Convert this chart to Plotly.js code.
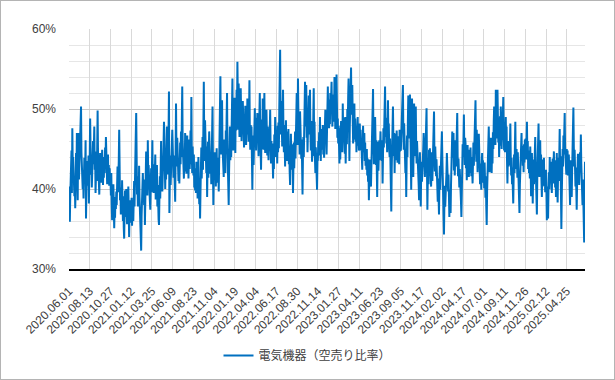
<!DOCTYPE html>
<html>
<head>
<meta charset="utf-8">
<script src="https://cdn.plot.ly/plotly-3.0.1.min.js"></script>
<style>
  html, body { margin: 0; padding: 0; background: #fff; }
  #frame { position: absolute; left: 0; top: 0; width: 615px; height: 380px; box-sizing: border-box; border: 1px solid #b4b4b4; }
  #chart { width: 613px; height: 378px; }
</style>
</head>
<body>
<div id="frame"><div id="chart"></div></div>
<script>
// 電気機器（空売り比率） daily values, %, 2020.06.01 onward (trading days)
const seriesName = "電気機器（空売り比率）";

const shortSellRatio = [
  // 2020.06.01 –
  40.3,38.5,35.9,39.0,43.5,41.0,44.8,39.5,47.6,43.2,44.0,40.5,42.8,39.1,41.5,37.6,40.2,44.5,42.0,47.0,43.3,38.6,45.8,47.0,41.2,44.0,42.5,45.3,48.0,50.3,44.6,41.8,43.7,40.0,42.2,38.8,41.5,43.9,40.7,42.6,46.1,36.3,39.8,42.0,40.4,43.5,41.3,44.2,38.2,42.5,
  // 2020.08.13 –
  44.0,48.8,45.1,41.8,43.6,40.2,44.3,42.0,46.0,43.1,45.4,47.8,42.4,44.7,39.5,41.9,43.8,41.0,45.6,49.8,44.2,42.1,43.6,39.3,41.7,44.5,42.3,40.8,43.9,41.6,44.9,42.7,40.5,43.2,41.4,44.0,42.0,45.2,43.0,46.5,41.8,43.5,40.6,42.9,44.3,41.2,43.0,40.4,42.6,40.8,
  // 2020.10.27 –
  41.5,39.2,42.0,38.0,36.1,39.5,37.4,40.6,38.2,35.1,37.8,36.4,39.0,37.5,39.7,38.0,40.4,42.8,39.6,41.2,43.5,47.4,41.0,38.6,40.2,36.8,39.4,37.2,41.1,38.3,36.0,39.1,35.2,33.8,37.0,39.8,36.5,38.7,40.0,37.3,35.6,38.2,36.9,40.3,37.6,34.0,36.8,38.6,35.8,37.4,
  // 2021.01.12 –
  36.2,38.9,35.4,37.6,38.6,36.0,39.2,41.0,37.8,43.5,40.1,46.8,49.5,42.0,39.3,41.6,37.8,40.5,38.4,42.9,39.0,36.7,38.1,35.0,32.3,36.6,38.8,40.7,42.0,39.4,41.2,38.0,40.9,35.5,38.3,41.8,44.7,40.0,42.3,39.2,46.1,41.5,43.0,39.9,41.6,38.5,37.4,40.8,42.6,39.6,
  // 2021.03.25 –
  44.0,46.1,40.8,42.7,39.5,43.1,40.2,41.5,44.3,38.7,41.9,39.6,43.0,37.8,40.5,38.4,36.2,35.5,39.0,41.6,38.8,43.2,46.0,40.4,42.8,39.7,44.1,41.3,45.7,48.4,42.5,44.8,40.0,43.6,41.2,45.0,47.8,42.1,44.6,41.8,46.3,52.2,37.0,41.7,44.2,40.5,43.9,42.0,45.5,47.4,
  // 2021.06.09 –
  43.0,45.6,41.4,44.2,40.6,42.0,38.4,44.5,50.7,45.2,42.8,46.4,43.3,44.9,41.0,43.7,40.7,42.9,45.8,43.1,47.2,44.0,48.6,52.8,46.0,43.4,45.1,41.3,44.6,42.2,47.0,43.8,45.4,41.9,44.2,46.7,42.8,45.0,41.3,43.9,46.2,42.5,44.8,47.3,43.1,51.5,44.7,42.0,45.3,43.2,
  // 2021.08.23 –
  41.7,44.3,40.2,42.6,39.8,41.1,39.5,43.4,40.9,42.2,38.8,41.6,44.0,40.3,38.1,40.7,36.3,39.6,42.5,45.2,41.3,43.8,46.5,42.4,48.0,53.4,46.2,43.5,48.6,44.1,46.8,42.0,45.3,39.0,42.8,45.9,41.4,44.6,47.2,43.0,45.8,41.9,44.4,40.6,43.3,47.0,50.3,43.7,38.0,41.8,
  // 2021.11.04 –
  42.0,44.6,41.2,43.5,40.3,42.7,45.1,41.6,43.9,40.8,42.3,39.7,43.0,45.8,48.5,54.1,47.0,44.3,46.9,51.1,45.4,42.6,44.8,41.5,46.2,43.1,45.7,42.0,47.3,44.4,49.0,52.0,45.2,42.9,40.6,38.0,42.4,45.8,47.8,43.6,46.9,44.0,48.3,50.6,53.8,47.5,44.8,49.2,46.0,51.4,
  // 2022.01.19 –
  48.2,44.5,50.6,47.3,52.4,49.0,55.9,50.1,47.4,53.2,48.8,46.5,50.9,47.7,52.6,48.3,46.0,49.4,47.1,51.0,46.3,49.8,45.2,48.1,46.6,50.4,47.9,45.5,49.2,46.8,51.3,47.0,49.5,45.9,48.7,53.6,47.2,44.9,48.0,45.6,47.8,43.4,39.9,44.2,46.7,43.0,48.2,45.1,50.1,46.3,
  // 2022.04.04 –
  47.6,44.8,48.9,46.2,49.5,45.4,47.9,44.1,46.8,49.3,52.0,47.0,45.2,42.4,46.3,48.7,45.0,51.3,47.4,44.9,48.2,52.0,46.1,44.5,47.6,45.3,49.9,46.0,44.2,47.8,45.1,43.6,46.4,44.8,47.3,49.9,45.5,43.2,46.0,44.1,45.7,43.0,41.3,44.6,42.5,46.8,44.0,49.0,45.3,47.2,
  // 2022.06.17 –
  44.0,46.5,43.2,47.9,44.6,48.3,45.1,50.2,52.9,57.4,49.6,46.8,51.0,47.7,45.3,49.4,52.4,47.1,44.6,48.0,45.7,42.8,46.3,48.6,44.9,47.2,43.5,46.8,44.0,47.5,43.1,45.4,42.2,40.5,44.3,46.9,43.0,45.6,42.4,44.7,39.5,43.3,45.8,42.6,44.9,47.2,43.8,46.3,49.5,52.0,
  // 2022.08.30 –
  48.7,45.5,53.8,48.1,45.9,47.4,44.3,49.7,45.0,47.6,43.8,46.2,42.7,39.3,43.9,46.5,44.0,48.3,45.2,53.4,47.8,50.2,53.0,46.4,48.9,44.6,47.0,45.3,51.7,46.8,49.1,52.4,47.2,44.8,48.5,45.6,43.4,46.9,44.1,49.3,52.6,46.0,48.4,43.7,42.0,45.2,43.0,41.8,39.9,43.5,
  // 2022.11.14 –
  43.6,46.0,44.2,47.1,45.0,49.0,45.8,43.5,46.7,44.9,47.5,45.1,48.0,44.3,46.6,43.9,47.7,45.4,49.9,46.2,48.5,44.3,47.9,50.6,52.8,48.9,51.2,47.6,50.3,48.1,52.0,49.4,51.5,53.4,49.7,47.8,50.9,48.4,51.8,49.2,54.0,50.2,47.5,50.8,48.3,54.3,49.0,46.4,48.8,45.7,
  // 2023.01.27 –
  47.9,45.4,43.2,47.6,43.7,46.9,48.5,45.0,47.3,44.6,50.7,46.8,48.9,45.2,47.7,44.4,49.0,43.2,46.5,48.2,45.6,50.0,47.4,51.3,53.8,48.1,43.5,47.9,50.4,52.5,55.2,49.3,51.6,53.0,48.7,45.7,49.4,47.0,50.7,46.2,48.8,45.9,47.5,44.6,48.2,46.1,49.0,45.4,47.6,44.8,
  // 2023.04.11 –
  46.6,48.2,45.3,47.4,44.8,46.1,44.0,42.4,45.7,47.9,44.6,46.3,47.0,43.5,45.8,42.9,44.4,42.4,45.0,41.7,43.8,40.9,42.6,38.6,41.4,43.7,40.8,42.2,40.3,43.9,41.5,45.6,48.7,52.5,46.3,43.1,47.6,44.2,49.0,45.4,43.0,46.1,42.7,39.0,43.5,45.9,42.3,44.8,46.1,43.6,
  // 2023.06.23 –
  45.0,47.2,44.3,46.1,43.5,45.8,40.7,44.9,47.6,45.2,48.4,50.1,52.8,46.5,48.9,45.7,47.4,44.6,49.0,51.1,46.8,48.2,44.9,44.0,46.3,42.7,40.1,37.2,42.5,45.8,48.0,50.3,46.4,44.1,47.0,42.0,45.5,43.6,46.9,44.2,47.3,45.0,43.3,46.6,44.0,45.8,43.1,47.4,44.7,46.5,
  // 2023.09.05 –
  44.8,47.1,45.3,48.9,50.5,53.0,47.6,44.9,48.2,46.1,43.8,42.0,44.5,39.0,43.4,46.7,44.0,48.6,51.7,47.2,49.0,46.3,51.8,47.5,43.9,39.9,44.8,51.3,47.0,44.2,41.5,45.9,50.7,46.4,44.1,47.8,50.3,45.6,43.2,46.0,42.8,44.7,41.9,40.5,38.6,42.3,44.6,41.0,37.8,41.7,
  // 2023.11.17 –
  43.4,40.9,44.2,42.1,45.0,47.0,42.6,44.8,41.5,43.7,46.9,48.3,50.1,43.0,37.4,41.2,43.8,40.6,44.9,42.4,45.1,41.7,43.3,40.3,42.8,44.6,41.0,43.9,46.2,47.8,49.7,44.5,42.2,45.3,44.0,41.6,43.7,40.5,42.1,38.4,41.3,39.2,36.8,40.7,42.9,39.9,41.6,43.8,45.5,47.2,
  // 2024.02.02 –
  44.1,41.6,38.5,36.9,34.3,38.2,40.4,37.8,41.2,39.0,42.0,44.5,41.3,43.0,39.7,41.8,38.8,36.5,39.9,38.1,37.0,40.6,43.1,41.2,47.2,43.9,45.6,47.0,42.3,44.4,41.7,43.6,46.1,42.8,44.9,47.3,49.5,44.0,41.6,43.8,42.8,40.2,42.5,39.3,41.0,38.4,36.5,39.7,42.9,45.6,
  // 2024.04.17 –
  44.0,46.2,49.3,45.1,43.0,46.4,45.7,42.6,44.3,41.1,43.8,45.5,42.2,44.9,41.5,43.6,44.9,42.0,45.2,43.1,41.6,44.0,42.3,40.7,43.5,45.8,42.9,44.7,47.0,48.6,51.1,46.2,43.4,47.4,44.6,42.1,45.3,43.0,46.9,41.8,44.0,40.6,43.2,41.1,39.9,42.7,44.5,41.4,43.6,40.8,
  // 2024.07.01 –
  42.5,40.1,43.3,41.0,38.9,41.6,37.8,35.5,39.7,42.4,44.8,43.0,47.8,44.5,42.1,45.3,43.6,46.4,44.0,42.0,45.7,43.2,47.1,45.0,48.4,50.3,46.2,48.9,45.5,52.4,47.6,49.8,46.3,52.4,48.0,45.8,47.9,44.0,46.7,49.1,45.4,50.3,47.2,45.0,48.6,46.1,49.3,51.5,47.0,44.8,
  // 2024.09.11 –
  46.9,44.6,47.3,49.0,45.2,47.8,43.5,40.7,44.1,46.0,42.8,45.3,43.0,46.5,48.2,44.0,41.7,43.9,40.6,42.7,40.0,38.2,41.5,44.3,42.0,45.6,48.4,44.1,42.5,45.0,43.2,41.4,44.6,42.0,39.8,41.3,37.0,40.5,43.4,41.2,44.8,47.0,43.5,45.4,42.9,44.9,42.1,45.6,43.3,46.2,
  // 2024.11.26 –
  44.0,46.3,43.7,45.9,48.4,44.2,46.0,42.5,44.8,42.0,43.9,41.3,45.3,42.8,39.1,42.7,44.5,41.6,38.2,41.9,43.7,40.6,44.1,42.3,46.5,43.2,41.0,38.9,36.8,41.5,44.0,46.4,48.2,43.8,41.5,44.4,46.1,42.0,44.3,41.2,39.0,42.6,40.4,43.7,41.1,43.9,40.3,42.2,39.6,41.8,
  // 2025.02.12 –
  42.4,39.7,36.1,40.3,38.5,36.3,39.8,42.1,40.0,44.0,41.2,43.4,40.6,42.7,39.5,41.9,43.8,40.7,42.5,44.7,41.3,43.6,40.2,42.8,39.0,41.4,44.5,40.9,38.3,41.7,43.9,41.0,44.6,47.5,42.3,44.1,39.6,35.0,39.2,42.6,45.0,42.8,46.7,44.3,47.1,49.5,45.2,42.9,44.5,41.8,
  // 2025.04.25 –
  45.0,42.6,44.8,41.7,42.0,44.3,40.8,42.9,38.0,41.4,43.6,41.0,39.0,42.4,44.7,46.9,50.2,45.3,42.8,44.9,42.1,40.3,42.7,39.6,37.4,40.8,42.0,44.4,41.3,43.0,40.5,42.5,44.6,42.1,46.8,43.2,41.5,39.7,38.0,41.2,39.0,36.2,33.3,38.5,43.4
];

// x-axis tick labels, one every 50 trading days
const tickLabels = [
  "2020.06.01","2020.08.13","2020.10.27","2021.01.12","2021.03.25","2021.06.09",
  "2021.08.23","2021.11.04","2022.01.19","2022.04.04","2022.06.17","2022.08.30",
  "2022.11.14","2023.01.27","2023.04.11","2023.06.23","2023.09.05","2023.11.17",
  "2024.02.02","2024.04.17","2024.07.01","2024.09.11","2024.11.26","2025.02.12",
  "2025.04.25"
];
const tickStep = 50;

const xIdx = shortSellRatio.map((_, i) => i);
const tickVals = tickLabels.map((_, i) => i * tickStep);

const trace = {
  x: xIdx,
  y: shortSellRatio,
  type: "scatter",
  mode: "lines",
  name: seriesName,
  line: { color: "#0070C0", width: 2 },
  hoverinfo: "skip"
};

const layout = {
  width: 613,
  height: 378,
  margin: { l: 68, r: 29, t: 28, b: 110 },
  paper_bgcolor: "#ffffff",
  plot_bgcolor: "#ffffff",
  font: { family: "Liberation Sans, Arial, sans-serif", color: "#404040", size: 12 },
  showlegend: true,
  legend: {
    orientation: "h",
    xref: "container", yref: "container",
    x: 0.5, xanchor: "center",
    y: 0.062, yanchor: "middle",
    font: { family: "Noto Sans CJK JP, sans-serif", size: 12, color: "#404040" }
  },
  xaxis: {
    range: [0, shortSellRatio.length - 1],
    tickmode: "array",
    tickvals: tickVals,
    ticktext: tickLabels,
    tickangle: -45,
    tickfont: { size: 12, color: "#404040" },
    showgrid: true,
    gridcolor: "#d9d9d9",
    gridwidth: 1,
    showline: true,
    linecolor: "#000000",
    linewidth: 1.5,
    zeroline: false,
    ticks: "",
    ticklabelstandoff: 9,
    fixedrange: true
  },
  yaxis: {
    range: [30, 60],
    dtick: 10,
    tick0: 30,
    ticksuffix: "%",
    tickfont: { size: 12, color: "#404040" },
    showgrid: true,
    gridcolor: "#c8c8c8",
    gridwidth: 1,
    minor: { dtick: 2, showgrid: true, gridcolor: "#e6e6e6", gridwidth: 1 },
    showline: false,
    zeroline: false,
    ticks: "",
    ticklabelstandoff: 12,
    fixedrange: true
  }
};

Plotly.newPlot("chart", [trace], layout, { displayModeBar: false, staticPlot: true });
</script>
</body>
</html>
